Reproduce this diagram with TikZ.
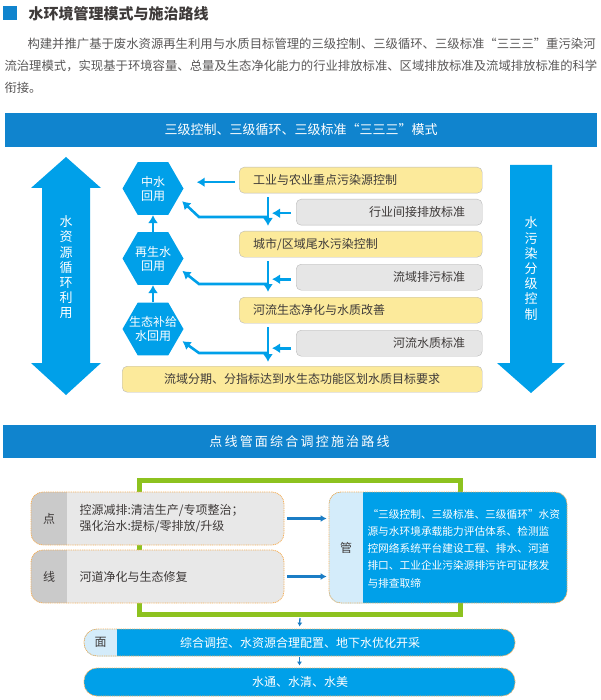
\documentclass[tikz,border=0pt]{standalone}
\usepackage{fontspec}
\setmainfont{Noto Sans CJK SC}
\newfontfamily\spacedfont[LetterSpace=17]{Noto Sans CJK SC}
\usepackage{tikz}
\usetikzlibrary{arrows.meta,shapes.geometric,positioning}
\definecolor{barblue}{HTML}{1084CE}
\definecolor{hexblue}{HTML}{00A0E9}
\definecolor{pipeblue}{HTML}{1B7DC5}
\definecolor{ctrlyellow}{HTML}{FCEA9B}
\definecolor{stdgrey}{HTML}{E6E6E6}
\definecolor{tagdark}{HTML}{CACACA}
\definecolor{taglight}{HTML}{E8E8E8}
\definecolor{tagblue}{HTML}{D4ECFA}
\definecolor{framegreen}{HTML}{8DC21F}
\definecolor{dotorange}{HTML}{F5B05A}
\definecolor{inktext}{HTML}{3E3A39}
\definecolor{paratext}{HTML}{595757}

\begin{document}
\begin{tikzpicture}[
    x=1pt, y=-1pt,
    >={Latex[length=8pt,width=10pt]},
    font=\fontsize{12}{14}\selectfont,
    text=inktext,
    ctrl/.style={
		rectangle,
		rounded corners=5pt,
		draw=gray!55,
		fill=ctrlyellow,
		minimum height=26pt,
		inner xsep=14pt,
		inner ysep=0pt,
		text width=215pt,
		align=left,
		anchor=north west
	},
    std/.style={
		ctrl,
		fill=stdgrey,
		text width=152pt,
		inner xsep=17pt,
		align=right
	},
    reuse/.style={
		regular polygon,
		regular polygon sides=6,
		minimum size=61pt,
		inner sep=0pt,
		fill=hexblue
	},
    whitetext/.style={text=white, align=center},
    flow/.style={draw=hexblue, line width=2.6pt, ->},
    pipe/.style={draw=pipeblue, line width=2.2pt, -{Latex[length=6pt,width=7pt]}},
    drop/.style={draw=pipeblue, line width=1.3pt, -{Latex[length=4pt,width=5pt]}},
    bar/.style={
		rectangle,
		fill=barblue,
		text=white,
		font=\fontsize{13}{15}\selectfont
	},
    tagbox/.style={
		rectangle,
		rounded corners=12pt,
		draw=dotorange,
		line width=0.8pt,
		dash pattern=on 1pt off 0.8pt,
		fill=taglight
	},
    tagpart/.style 2 args={
		path picture={\fill[#1, sharp corners] (path picture bounding box.south west) rectangle ([xshift=#2]path picture bounding box.north west);}
	}
  ]
  \useasboundingbox (0,0) rectangle (600,700);

  % heading and introduction
  \fill[barblue] (3,6) rectangle (17,20);
  \node [anchor=west, font=\fontsize{15}{18}\selectfont\bfseries] (title) at (25,14) {水环境管理模式与施治路线};
  \node [anchor=west, text=paratext, font=\fontsize{12.35}{14}\selectfont] (intro1) at (24,44) {构建并推广基于废水资源再生利用与水质目标管理的三级控制、三级循环、三级标准“三三三”重污染河};
  \node [anchor=west, text=paratext, font=\fontsize{12.35}{14}\selectfont] (intro2) at (1,66) {流治理模式，实现基于环境容量、总量及生态净化能力的行业排放标准、区域排放标准及流域排放标准的科学};
  \node [anchor=west, text=paratext, font=\fontsize{12.35}{14}\selectfont] (intro3) at (1,88) {衔接。};

  \node [bar, minimum width=592pt, minimum height=34pt] (bar1) at (301,130) {三级控制、三级循环、三级标准“三三三”模式};

  % the two big arrows
  \fill[hexblue] (66,157) -- (101,188) -- (90,188) -- (90,363) -- (101,363) -- (66,395)
    -- (31,363) -- (42,363) -- (42,188) -- (31,188) -- cycle;
  \fill[hexblue] (510,165) -- (552,165) -- (552,363) -- (565,363) -- (531,393) -- (497,363)
    -- (510,363) -- cycle;
  \node [whitetext, font=\fontsize{13}{15.2}\selectfont] (cyclelabel) at (66,267.5) {水\\资\\源\\循\\环\\利\\用};
  \node [whitetext, font=\fontsize{13}{15.2}\selectfont] (gradelabel) at (531,268.5) {水\\污\\染\\分\\级\\控\\制};

  % We start by placing the blocks
  \node [ctrl] (ctrl1) at (239,167) {工业与农业重点污染源控制};
  \node [std] (std1) at (296,199) {行业间接排放标准};
  \node [ctrl] (ctrl2) at (239,231) {城市/区域尾水污染控制};
  \node [std] (std2) at (296,264) {流域排污标准};
  \node [ctrl] (ctrl3) at (239,297) {河流生态净化与水质改善};
  \node [std] (std3) at (296,330) {河流水质标准};
  \node [ctrl, text width=332pt, align=center] (ctrl4) at (122,366) {流域分期、分指标达到水生态功能区划水质目标要求};

  \node [reuse] (reuse1) at (153,188.5) {};
  \node [reuse] (reuse2) at (153,258.5) {};
  \node [reuse] (reuse3) at (153,329) {};
  \node [whitetext] (reuse1text) at (reuse1) {中水\\回用};
  \node [whitetext] (reuse2text) at (reuse2) {再生水\\回用};
  \node [whitetext] (reuse3text) at (reuse3) {生态补给\\水回用};

  \coordinate (tap1) at (268,217);
  \coordinate (tap2) at (268,284);
  \coordinate (tap3) at (268,353);

  \draw [flow, shorten <=4pt, shorten >=13pt] ([yshift=-2pt]ctrl1.west) -- ([yshift=-2pt]ctrl1.west -| reuse1.east);
  \draw [flow, shorten <=4pt, shorten >=5pt] (ctrl1.south -| tap1) -- (ctrl2.north -| tap1);
  \draw [flow, shorten <=4pt, shorten >=5pt] (ctrl2.south -| tap2) -- (ctrl3.north -| tap2);
  \draw [flow, shorten <=4pt, shorten >=4pt] (ctrl3.south -| tap3) -- (ctrl4.north -| tap3);
  \draw [flow, shorten <=5pt, shorten >=4pt] ([yshift=-1pt]std1.west) -- ([yshift=-1pt]std1.west -| tap1);
  \draw [flow, shorten <=5pt, shorten >=4pt] ([yshift=-2pt]std2.west) -- ([yshift=-2pt]std2.west -| tap2);
  \draw [flow, shorten <=5pt, shorten >=4pt] ([yshift=-5pt]std3.west) -- ([yshift=-5pt]std3.west -| tap3);
  \draw [flow, shorten >=5pt] (tap1) -- ++(-69,0) -- (reuse1.-20);
  \draw [flow, shorten >=5pt] (tap2) -- ++(-69,0) -- (reuse2.-20);
  \draw [flow, shorten >=5pt] (tap3) -- ++(-69,0) -- (reuse3.-20);
  \draw [flow, line width=2pt] (reuse2) -- (reuse1);
  \draw [flow, line width=2pt] (reuse3) -- (reuse2);

  % second part
  \node [bar, minimum width=593pt, minimum height=33pt, font=\fontsize{13}{15}\spacedfont] (bar2) at (299.5,441.5) {点线管面综合调控施治路线};

  \node [rectangle, draw=framegreen, line width=5pt, minimum width=321pt, minimum height=134pt] (frame) at (300,547.5) {};

  \node [tagbox, tagpart={tagdark}{36pt}, minimum width=253pt, minimum height=53pt] (point) at (157.5,518.5) {};
  \node [tagbox, tagpart={tagdark}{36pt}, minimum width=253pt, minimum height=53pt] (line) at (157.5,576.5) {};
  \node [tagbox, tagpart={tagblue}{34pt}, fill=hexblue, minimum width=238pt, minimum height=111pt] (manage) at (448,547.5) {};
  \node [tagbox, tagpart={tagblue}{33pt}, fill=hexblue, rounded corners=13pt, minimum width=431pt, minimum height=27pt] (face) at (299.5,642.5) {};
  \node [tagbox, fill=hexblue, rounded corners=13pt, minimum width=431pt, minimum height=28pt] (goal) at (299.5,682) {};

  \node (pointtag) at (49,518.5) {点};
  \node [anchor=west, align=left, font=\fontsize{12}{16}\selectfont] (pointtext) at (76,518.5) {控源减排:清洁生产/专项整治；\\强化治水:提标/零排放/升级};
  \node (linetag) at (49,576.5) {线};
  \node [anchor=west] (linetext) at (76,576.5) {河道净化与生态修复};
  \node (managetag) at (346,547.5) {管};
  \node [anchor=west, align=left, text=white, font=\fontsize{10.7}{17.3}\selectfont] (managetext) at (364,548.5) {“三级控制、三级标准、三级循环”水资\\源与水环境承载能力评估体系、检测监\\控网络系统平台建设工程、排水、河道\\排口、工业企业污染源排污许可证核发\\与排查取缔};
  \node (facetag) at (100.5,642.5) {面};
  \node [text=white] (facetext) at (300,642.5) {综合调控、水资源合理配置、地下水优化开采};
  \node [text=white] (goaltext) at (300,682) {水通、水清、水美};

  \draw [pipe, shorten <=3pt, shorten >=2pt] (point.east) -- (manage.west |- point.east);
  \draw [pipe, shorten <=3pt, shorten >=2pt] (line.east) -- (manage.west |- line.east);
  \draw [drop, shorten <=1pt, shorten >=2pt] (frame.south) -- (face.north);
  \draw [drop, shorten <=1pt, shorten >=2pt] (face.south) -- (goal.north);

\end{tikzpicture}
\end{document}
